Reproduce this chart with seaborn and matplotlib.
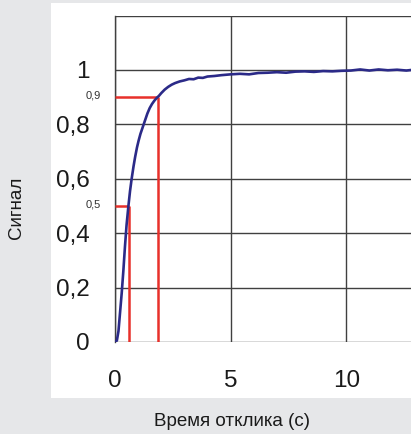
import matplotlib
matplotlib.use("Agg")
import matplotlib.pyplot as plt
import seaborn as sns
import pandas as pd
from matplotlib.patches import Rectangle

# response curve
time_s = [0.0, 0.08, 0.15, 0.22, 0.29, 0.36, 0.43, 0.5, 0.58, 0.65, 0.72, 0.8,
          0.87, 0.95, 1.02, 1.1, 1.2, 1.3, 1.4, 1.5, 1.6, 1.7, 1.8, 1.9, 2.0,
          2.15, 2.3, 2.45, 2.6, 2.8, 3.0, 3.2, 3.4, 3.6, 3.8, 4.0, 4.3, 4.6,
          5.0, 5.4, 5.8, 6.2, 6.6, 7.0, 7.4, 7.8, 8.2, 8.6, 9.0, 9.4, 9.8,
          10.2, 10.6, 11.0, 11.4, 11.8, 12.2, 12.6, 12.8]
signal = [0.0, 0.005, 0.04, 0.11, 0.18, 0.26, 0.35, 0.43, 0.50, 0.555, 0.60, 0.645,
          0.68, 0.715, 0.74, 0.765, 0.79, 0.815, 0.84, 0.86, 0.875, 0.887, 0.897, 0.905, 0.915,
          0.928, 0.938, 0.946, 0.952, 0.958, 0.962, 0.967, 0.966, 0.972, 0.971, 0.976, 0.978, 0.981,
          0.984, 0.986, 0.984, 0.989, 0.99, 0.992, 0.99, 0.994, 0.995, 0.993, 0.996, 0.995, 0.997,
          0.998, 1.002, 0.998, 1.002, 0.999, 1.001, 0.998, 1.0]

# 50% and 90% markers
levels = [0.5, 0.9]
level_labels = ["0,5", "0,9"]
level_times = [0.62, 1.87]

x_ticks = [0, 5, 10]
y_ticks = [0, 0.2, 0.4, 0.6, 0.8, 1.0, 1.2]
y_tick_labels = ["0", "0,2", "0,4", "0,6", "0,8", "1", ""]

sns.set_style("white")
plt.rcParams['font.family'] = ['Liberation Sans', 'DejaVu Sans']

W, H = 411, 434
fig = plt.figure(figsize=(W / 100, H / 100), dpi=100)
fig.patch.set_facecolor("#e6e7e9")
fig.patches.append(Rectangle((51 / W, 1 - 398 / H), (W - 51) / W, (398 - 3) / H,
                             transform=fig.transFigure, facecolor="white",
                             edgecolor="none", zorder=-5))

ax = fig.add_axes([115 / W, 1 - 342 / H, (W - 115) / W, (342 - 15.6) / H])
ax.set_facecolor("none")

df = pd.DataFrame({"t": time_s, "s": signal})

for lv, tm in zip(levels, level_times):
    ax.plot([0, tm], [lv, lv], color="#e8302a", lw=1.8, zorder=3, solid_capstyle="butt")
    ax.plot([tm, tm], [0, lv], color="#e8302a", lw=1.8, zorder=3, solid_capstyle="butt")

sns.lineplot(data=df, x="t", y="s", ax=ax, color="#2b2a88", lw=1.9, zorder=4)

ax.set_xlim(0, 12.8)
ax.set_ylim(0, 1.2)
ax.set_xticks(x_ticks)
ax.set_xticklabels([str(v) for v in x_ticks])
ax.set_yticks(y_ticks)
ax.set_yticklabels(y_tick_labels)
ax.grid(True, color="#404040", lw=1.0)
ax.set_axisbelow(True)
ax.tick_params(axis="both", length=6, width=1.0, color="#404040",
               labelsize=17.5, labelcolor="#1a1a1a")
ax.tick_params(axis="x", pad=14)
ax.tick_params(axis="y", pad=12)
for side in ["top", "right", "bottom"]:
    ax.spines[side].set_visible(False)
ax.spines["left"].set_color("#404040")
ax.spines["left"].set_linewidth(1.0)
ax.set_xlabel("")
ax.set_ylabel("")

for lv, lab in zip(levels, level_labels):
    ax.text(-0.95, lv + 0.006, lab, ha="center", va="center", fontsize=8,
            color="#333333", clip_on=False)

fig.text(232 / W, 1 - 421 / H, "Время отклика (с)", ha="center", va="center",
         fontsize=13.5, color="#1a1a1a")
fig.text(17 / W, 1 - 208 / H, "Сигнал", ha="center", va="center", rotation=90,
         fontsize=13.5, color="#1a1a1a")

fig.savefig("out.png", dpi=100, facecolor=fig.get_facecolor())
